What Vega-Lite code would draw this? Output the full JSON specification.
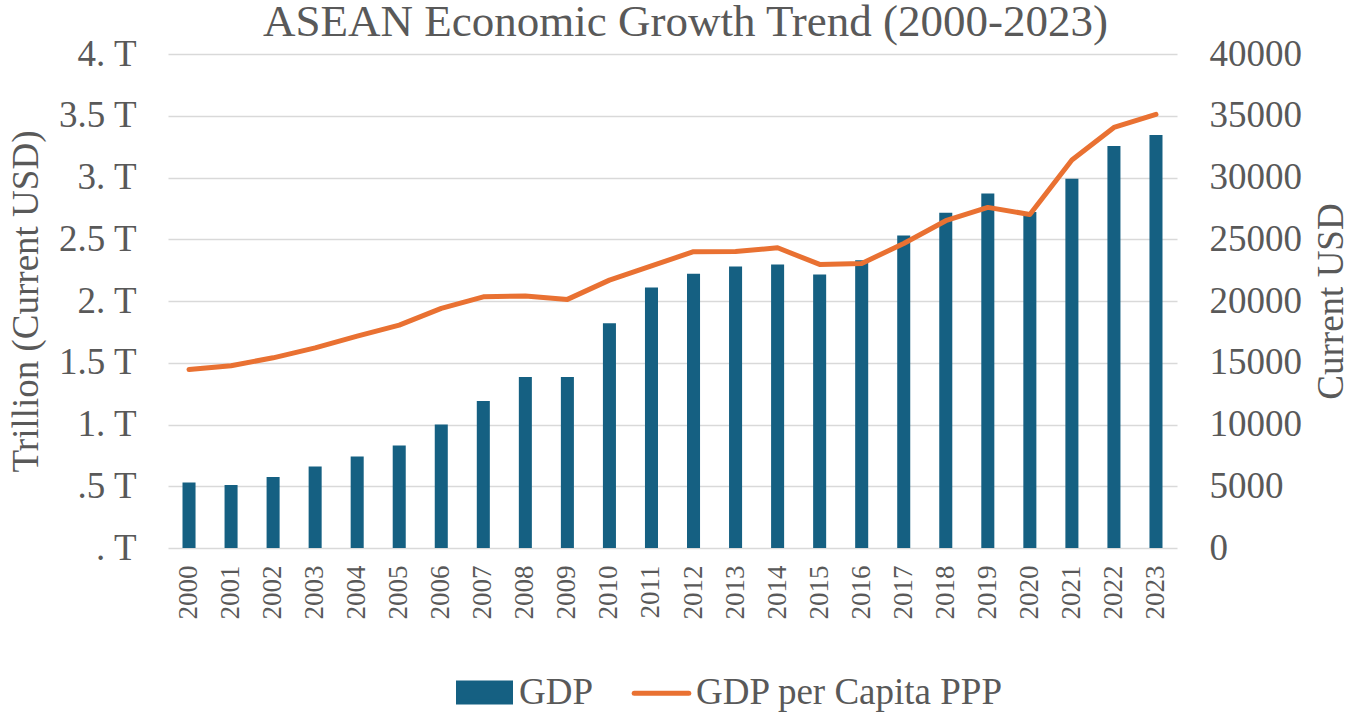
{
  "$schema": "https://vega.github.io/schema/vega-lite/v6.json",
  "width": 1009,
  "height": 494,
  "autosize": {"type": "none"},
  "padding": {"left": 168, "top": 54, "right": 173, "bottom": 164},
  "title": {
    "text": "ASEAN Economic Growth Trend (2000-2023)",
    "font": "Liberation Serif",
    "fontSize": 45,
    "fontWeight": "normal",
    "color": "#595959",
    "anchor": "middle",
    "frame": "group",
    "baseline": "alphabetic",
    "dx": 13,
    "dy": 50,
    "offset": 4
  },
  "data": {
    "values": [
      {"year": "2000", "gdp": 0.53, "pc": 14460},
      {"year": "2001", "gdp": 0.51, "pc": 14760},
      {"year": "2002", "gdp": 0.575, "pc": 15400},
      {"year": "2003", "gdp": 0.66, "pc": 16200},
      {"year": "2004", "gdp": 0.74, "pc": 17150},
      {"year": "2005", "gdp": 0.83, "pc": 18050},
      {"year": "2006", "gdp": 1.0, "pc": 19400},
      {"year": "2007", "gdp": 1.19, "pc": 20340},
      {"year": "2008", "gdp": 1.385, "pc": 20400},
      {"year": "2009", "gdp": 1.385, "pc": 20130},
      {"year": "2010", "gdp": 1.82, "pc": 21690},
      {"year": "2011", "gdp": 2.11, "pc": 22850},
      {"year": "2012", "gdp": 2.22, "pc": 23990},
      {"year": "2013", "gdp": 2.28, "pc": 24000},
      {"year": "2014", "gdp": 2.295, "pc": 24310},
      {"year": "2015", "gdp": 2.215, "pc": 22960},
      {"year": "2016", "gdp": 2.33, "pc": 23040},
      {"year": "2017", "gdp": 2.53, "pc": 24660},
      {"year": "2018", "gdp": 2.715, "pc": 26500},
      {"year": "2019", "gdp": 2.87, "pc": 27580},
      {"year": "2020", "gdp": 2.72, "pc": 27010},
      {"year": "2021", "gdp": 2.99, "pc": 31410},
      {"year": "2022", "gdp": 3.255, "pc": 34050},
      {"year": "2023", "gdp": 3.345, "pc": 35110}
    ]
  },
  "encoding": {
    "x": {
      "field": "year",
      "type": "ordinal",
      "scale": {"paddingInner": 0.69, "paddingOuter": 0.345},
      "axis": {
        "title": null,
        "labelAngle": 270,
        "labelFont": "Liberation Serif",
        "labelFontSize": 27,
        "labelColor": "#595959",
        "labelPadding": 17,
        "ticks": false,
        "domain": false,
        "grid": false
      }
    }
  },
  "layer": [
    {
      "mark": {"type": "bar"},
      "encoding": {
        "y": {
          "field": "gdp",
          "type": "quantitative",
          "scale": {"domain": [0, 4], "nice": false},
          "axis": {
            "orient": "left",
            "values": [0, 0.5, 1, 1.5, 2, 2.5, 3, 3.5, 4],
            "labelExpr": "(datum.value == 0 ? '.' : datum.value == 0.5 ? '.5' : (datum.value % 1 == 0 ? format(datum.value, 'd') + '.' : format(datum.value, '.1f'))) + ' T'",
            "labelFont": "Liberation Serif",
            "labelFontSize": 37,
            "labelColor": "#595959",
            "labelPadding": 32,
            "ticks": false,
            "domain": false,
            "grid": true,
            "gridColor": "#D9D9D9",
            "gridWidth": 1.5,
            "title": "Trillion (Current USD)",
            "titleFont": "Liberation Serif",
            "titleFontSize": 37,
            "titleFontWeight": "normal",
            "titleColor": "#595959",
            "titlePadding": 12
          }
        },
        "color": {
          "datum": "GDP",
          "type": "nominal",
          "scale": {"domain": ["GDP", "GDP per Capita PPP"], "range": ["#156082", "#E97132"]},
          "legend": {
            "orient": "none",
            "direction": "horizontal",
            "legendX": 288,
            "legendY": 610,
            "title": null,
            "labelFont": "Liberation Serif",
            "labelFontSize": 37,
            "labelColor": "#595959",
            "labelOffset": 6,
            "labelLimit": 0,
            "columnPadding": 30,
            "symbolSize": 2704,
            "encode": {
              "symbols": {
                "update": {
                  "shape": {"signal": "datum.value === 'GDP' ? 'M-1,-0.365H1V0.365H-1Z' : 'M-1.05,0H1.05'"},
                  "fill": {"signal": "datum.value === 'GDP' ? '#156082' : 'transparent'"},
                  "stroke": {"signal": "datum.value === 'GDP' ? 'transparent' : '#E97132'"},
                  "strokeWidth": {"value": 5},
                  "strokeCap": {"value": "round"},
                  "opacity": {"value": 1},
                  "fillOpacity": {"value": 1},
                  "strokeOpacity": {"value": 1}
                }
              }
            }
          }
        }
      }
    },
    {
      "mark": {"type": "line", "strokeWidth": 5, "strokeCap": "round", "strokeJoin": "round"},
      "encoding": {
        "y": {
          "field": "pc",
          "type": "quantitative",
          "scale": {"domain": [0, 40000], "nice": false},
          "axis": {
            "orient": "right",
            "values": [0, 5000, 10000, 15000, 20000, 25000, 30000, 35000, 40000],
            "format": "d",
            "labelFont": "Liberation Serif",
            "labelFontSize": 37,
            "labelColor": "#595959",
            "labelPadding": 32,
            "ticks": false,
            "domain": false,
            "grid": false,
            "title": "Current USD",
            "titleAngle": 270,
            "titleFont": "Liberation Serif",
            "titleFontSize": 37,
            "titleFontWeight": "normal",
            "titleColor": "#595959",
            "titlePadding": 49
          }
        },
        "color": {"datum": "GDP per Capita PPP", "type": "nominal"}
      }
    }
  ],
  "resolve": {"scale": {"y": "independent"}},
  "config": {
    "view": {"stroke": null},
    "background": "white"
  }
}
